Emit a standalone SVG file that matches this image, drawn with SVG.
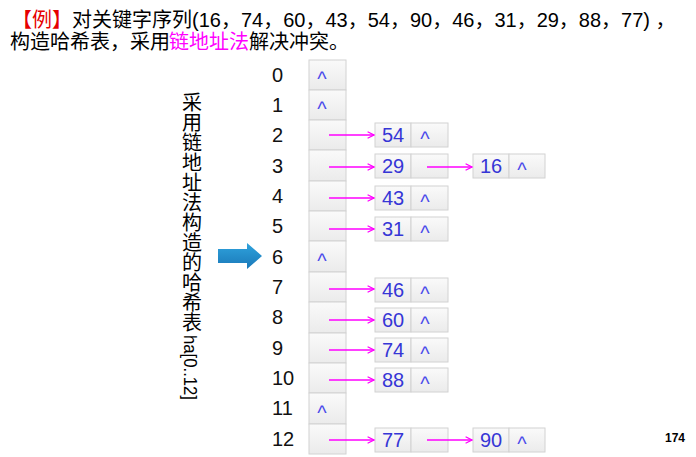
<svg xmlns="http://www.w3.org/2000/svg" width="696" height="457" viewBox="0 0 696 457">
<defs>
<linearGradient id="cg" x1="0" y1="0" x2="0" y2="1">
<stop offset="0" stop-color="#fafafa"/><stop offset="1" stop-color="#ebebeb"/>
</linearGradient>
<linearGradient id="ag" x1="0" y1="0" x2="0" y2="1">
<stop offset="0" stop-color="#2fa3dd"/><stop offset="1" stop-color="#1a78b8"/>
</linearGradient>
<marker id="ah" viewBox="0 0 10 10" refX="9" refY="5" markerWidth="8" markerHeight="8" markerUnits="userSpaceOnUse" orient="auto">
<path d="M1,1 L9,5 L1,9" fill="none" stroke="#ff00ff" stroke-width="1.6"/>
</marker>
</defs>
<style>
.t{font-family:"Liberation Sans","Noto Sans CJK SC",sans-serif;font-size:20px;fill:#000}
.idx{font-family:"Liberation Sans",sans-serif;font-size:20px;fill:#111}
.cell{fill:url(#cg);stroke:#d2d2d2;stroke-width:1}
.v{font-family:"Liberation Sans",sans-serif;font-size:20px;fill:#3636d6;text-anchor:middle}
.n{font-family:"Liberation Sans",sans-serif;font-size:20px;fill:#4a4aea;text-anchor:middle}
.c{stroke:#ff00ff;stroke-width:1.6;fill:none;marker-end:url(#ah)}
</style>
<rect width="696" height="457" fill="#fff"/>
<g id="title">
<text class="t" x="12" y="27" fill="#e60000" style="fill:#e60000">【例】</text>
<text class="t" x="72" y="27">对关键字序列(16，74，60，43，54，90，46，31，29，88，77) ，</text>
<text class="t" x="10" y="49">构造哈希表，采用</text>
<text class="t" x="169" y="49" style="fill:#ff00ff">链地址法</text>
<text class="t" x="249" y="49">解决冲突。</text>
</g>
<g id="side-label">
<text x="192" y="92" style="writing-mode:vertical-rl;font-family:'Noto Sans CJK SC',sans-serif;font-size:20px;fill:#000">采用链地址法构造的哈希表</text>
<text transform="translate(184,335) rotate(90)" textLength="65" lengthAdjust="spacingAndGlyphs" style="font-family:'Liberation Sans',sans-serif;font-size:19px;fill:#000">ha[0..12]</text>
</g>
<g id="big-arrow">
<path d="M218,249 L247,249 L247,243 L262,256 L247,269 L247,263 L218,263 Z" fill="url(#ag)"/>
</g>
<g id="table">
<g id="row0"><text class="idx" x="272" y="82">0</text><rect class="cell" x="309" y="60" width="37" height="30"/><text class="n" x="322" y="86">^</text></g>
<g id="row1"><text class="idx" x="272" y="112">1</text><rect class="cell" x="309" y="90" width="37" height="30"/><text class="n" x="322" y="116">^</text></g>
<g id="row2"><text class="idx" x="272" y="142">2</text><rect class="cell" x="309" y="120" width="37" height="30"/></g>
<g id="row3"><text class="idx" x="272" y="173">3</text><rect class="cell" x="309" y="150" width="37" height="31"/></g>
<g id="row4"><text class="idx" x="272" y="203">4</text><rect class="cell" x="309" y="181" width="37" height="30"/></g>
<g id="row5"><text class="idx" x="272" y="233">5</text><rect class="cell" x="309" y="211" width="37" height="30"/></g>
<g id="row6"><text class="idx" x="272" y="264">6</text><rect class="cell" x="309" y="241" width="37" height="31"/><text class="n" x="322" y="268">^</text></g>
<g id="row7"><text class="idx" x="272" y="294">7</text><rect class="cell" x="309" y="272" width="37" height="30"/></g>
<g id="row8"><text class="idx" x="272" y="324">8</text><rect class="cell" x="309" y="302" width="37" height="31"/></g>
<g id="row9"><text class="idx" x="272" y="355">9</text><rect class="cell" x="309" y="333" width="37" height="30"/></g>
<g id="row10"><text class="idx" x="272" y="385">10</text><rect class="cell" x="309" y="363" width="37" height="30"/></g>
<g id="row11"><text class="idx" x="272" y="415">11</text><rect class="cell" x="309" y="393" width="37" height="31"/><text class="n" x="322" y="420">^</text></g>
<g id="row12"><text class="idx" x="272" y="446">12</text><rect class="cell" x="309" y="424" width="37" height="30"/></g>
</g>
<g id="node54"><rect class="cell" x="375" y="123" width="36" height="24"/><rect class="cell" x="411" y="123" width="37" height="24"/><text class="v" x="393" y="142">54</text><text class="n" x="425" y="146">^</text></g>
<g id="node29"><rect class="cell" x="375" y="154" width="36" height="24"/><rect class="cell" x="411" y="154" width="37" height="24"/><text class="v" x="393" y="173">29</text></g>
<g id="node16"><rect class="cell" x="473" y="154" width="36" height="24"/><rect class="cell" x="509" y="154" width="36" height="24"/><text class="v" x="491" y="173">16</text><text class="n" x="522" y="177">^</text></g>
<g id="node43"><rect class="cell" x="375" y="186" width="36" height="24"/><rect class="cell" x="411" y="186" width="37" height="24"/><text class="v" x="393" y="205">43</text><text class="n" x="425" y="209">^</text></g>
<g id="node31"><rect class="cell" x="375" y="217" width="36" height="24"/><rect class="cell" x="411" y="217" width="37" height="24"/><text class="v" x="393" y="236">31</text><text class="n" x="425" y="240">^</text></g>
<g id="node46"><rect class="cell" x="375" y="278" width="36" height="24"/><rect class="cell" x="411" y="278" width="37" height="24"/><text class="v" x="393" y="297">46</text><text class="n" x="425" y="301">^</text></g>
<g id="node60"><rect class="cell" x="375" y="308" width="36" height="24"/><rect class="cell" x="411" y="308" width="37" height="24"/><text class="v" x="393" y="327">60</text><text class="n" x="425" y="331">^</text></g>
<g id="node74"><rect class="cell" x="375" y="338" width="36" height="24"/><rect class="cell" x="411" y="338" width="37" height="24"/><text class="v" x="393" y="357">74</text><text class="n" x="425" y="361">^</text></g>
<g id="node88"><rect class="cell" x="375" y="368" width="36" height="24"/><rect class="cell" x="411" y="368" width="37" height="24"/><text class="v" x="393" y="387">88</text><text class="n" x="425" y="391">^</text></g>
<g id="node77"><rect class="cell" x="375" y="428" width="36" height="24"/><rect class="cell" x="411" y="428" width="37" height="24"/><text class="v" x="393" y="447">77</text></g>
<g id="node90"><rect class="cell" x="473" y="428" width="36" height="24"/><rect class="cell" x="509" y="428" width="36" height="24"/><text class="v" x="491" y="447">90</text><text class="n" x="522" y="451">^</text></g>
<g id="connectors">
<line class="c" x1="329" y1="135" x2="374" y2="135"/>
<line class="c" x1="329" y1="167" x2="374" y2="167"/>
<line class="c" x1="427" y1="167" x2="472" y2="167"/>
<line class="c" x1="329" y1="198" x2="374" y2="198"/>
<line class="c" x1="329" y1="229" x2="374" y2="229"/>
<line class="c" x1="329" y1="289" x2="374" y2="289"/>
<line class="c" x1="329" y1="320" x2="374" y2="320"/>
<line class="c" x1="329" y1="350" x2="374" y2="350"/>
<line class="c" x1="329" y1="380" x2="374" y2="380"/>
<line class="c" x1="329" y1="440" x2="374" y2="440"/>
<line class="c" x1="427" y1="440" x2="472" y2="440"/>
</g>
<text x="665" y="442" style="font-family:'Liberation Sans',sans-serif;font-size:12px;font-weight:bold;fill:#000">174</text>
</svg>
